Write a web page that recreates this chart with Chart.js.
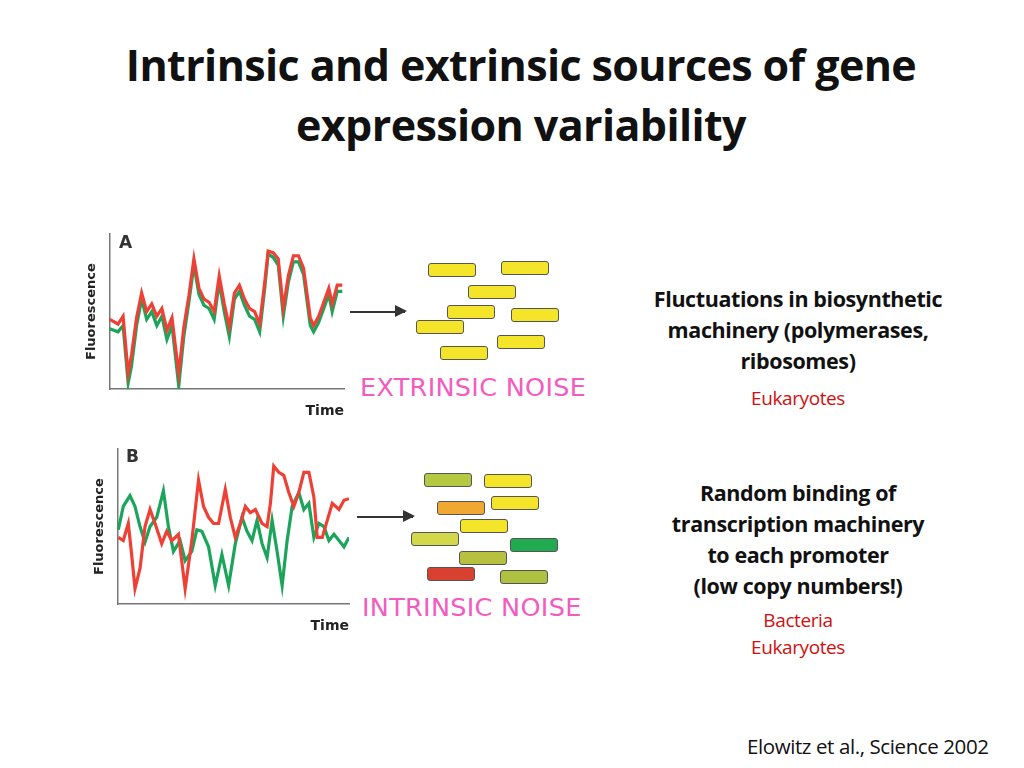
<!DOCTYPE html>
<html><head><meta charset="utf-8">
<script src="https://cdn.jsdelivr.net/npm/chart.js@4/dist/chart.umd.min.js"></script>
<style>
body{margin:0;width:1024px;height:768px;background:#fff;position:relative;overflow:hidden;font-family:"Open Sans",sans-serif}
.t{position:absolute;white-space:nowrap}
.title{left:0;width:1042px;text-align:center;font-weight:bold;font-size:43px;color:#111;letter-spacing:-0.6px}
.r{left:648px;width:300px;text-align:center;font-size:21.5px;font-weight:bold;color:#111;letter-spacing:-0.4px}
.red{color:#d01010;font-weight:normal;font-size:19px}
.bar{position:absolute;width:46px;height:12px;border:1px solid #555;border-radius:3px}
.noise{font-family:"DejaVu Sans",sans-serif;font-size:25.5px;color:#f25cc0;letter-spacing:0.3px}
.arrow{position:absolute;height:1.5px;background:#333}
.arrow:after{content:"";position:absolute;right:-2px;top:-6px;border-left:12px solid #333;border-top:6.5px solid transparent;border-bottom:6.5px solid transparent}
.lbl{position:absolute;font-weight:900;font-size:17px;font-family:"DejaVu Sans",sans-serif;color:#333}
</style></head><body>
<div class="t title" style="top:35px">Intrinsic and extrinsic sources of gene</div>
<div class="t title" style="top:95px">expression variability</div>

<div style="position:absolute;left:80px;top:228px;width:268px;height:196px"><canvas id="cA"></canvas></div>
<div style="position:absolute;left:88px;top:443px;width:265px;height:196px"><canvas id="cB"></canvas></div>
<div class="lbl" style="left:119px;top:232px">A</div>
<div class="lbl" style="left:126px;top:446px">B</div>

<div class="arrow" style="left:350px;top:311px;width:55px"></div>
<div class="arrow" style="left:357px;top:516px;width:56px"></div>
<div class="t noise" style="left:360px;top:372px">EXTRINSIC NOISE</div>
<div class="t noise" style="left:362px;top:592px">INTRINSIC NOISE</div>
<div id="bars"></div>

<div class="t r" style="top:284px">Fluctuations in biosynthetic</div>
<div class="t r" style="top:315px">machinery (polymerases,</div>
<div class="t r" style="top:346px">ribosomes)</div>
<div class="t r red" style="top:385px">Eukaryotes</div>
<div class="t r" style="top:478px">Random binding of</div>
<div class="t r" style="top:509px">transcription machinery</div>
<div class="t r" style="top:540px">to each promoter</div>
<div class="t r" style="top:571px">(low copy numbers!)</div>
<div class="t r red" style="top:607px">Bacteria</div>
<div class="t r red" style="top:634px">Eukaryotes</div>
<div class="t" style="left:747px;top:732px;font-size:20.5px;color:#111;letter-spacing:-0.4px">Elowitz et al., Science 2002</div>

<script>
// Panel A (extrinsic): time positions and fluorescence values
const timeA = [85,110,125,140,150,165,180,195,210,225,240,255,270,290,305,320,335,350,365,380,395,410,425,440,455,470,485,500,515,530,545,555,570,585,600,615,630,645,660,680,690,705,720,735,745,760,775];
const greenA = [39,37,41,4,15,41,58,45,50,41,47,32,41,2,34,56,80,61,54,52,45,69,50,34,58,63,54,47,45,37,65,87,85,80,47,69,82,82,74,41,37,43,52,61,50,63,63];
const redA = [45,42,47,10,22,46,62,50,55,47,52,38,46,10,40,60,84,65,58,56,50,73,55,40,62,67,58,52,50,42,69,89,88,84,52,73,86,86,78,46,41,47,56,65,55,67,67];
// Panel B (intrinsic)
const timeBg = [110,125,145,160,175,190,205,225,245,260,275,295,310,330,345,360,380,400,420,440,460,480,495,510,525,540,555,570,585,600,615,630,650,665,680,695,710,725,740,755,770,785,800];
const greenB = [48,63,70,63,50,40,50,56,73,50,34,41,28,34,48,47,37,12,32,12,39,56,47,41,54,39,30,54,34,12,41,63,72,61,65,43,52,50,41,45,41,37,43];
const timeBr = [110,125,140,150,160,175,190,205,220,240,255,270,290,310,330,350,365,380,395,410,430,445,460,475,490,505,520,540,555,565,575,590,605,620,635,650,665,680,695,705,720,735,750,770,785,800];
const redB = [43,41,52,32,10,23,50,61,52,39,47,41,45,10,41,80,63,56,52,52,74,56,43,52,63,59,61,52,50,65,89,85,83,72,63,72,85,85,69,43,43,54,65,61,67,68];

const pts=(xs,ys)=>xs.map((x,i)=>({x:x,y:ys[i]}));
function mk(id,sets,xmin,xmax){
  new Chart(document.getElementById(id),{type:'line',
    data:{datasets:sets.map(s=>({data:pts(s[0],s[1]),borderColor:s[2],borderWidth:3.2,pointRadius:0,tension:0}))},
    options:{responsive:true,maintainAspectRatio:false,animation:false,
      plugins:{legend:{display:false},tooltip:{enabled:false}},
      layout:{padding:{top:6,right:4}},
      scales:{
        x:{type:'linear',min:xmin,max:xmax,grid:{display:false},ticks:{display:false},border:{color:'#777',width:1.5},
          title:{display:true,text:'Time',align:'end',color:'#222',font:{family:'DejaVu Sans',size:14,weight:'bold'},padding:{top:6}}},
        y:{min:0,max:100,grid:{display:false},ticks:{display:false},border:{color:'#777',width:1.5},
          title:{display:true,text:'Fluorescence',color:'#222',font:{family:'DejaVu Sans',size:13,weight:'bold'},padding:{bottom:2}}}
      }}});
}
mk('cA',[[timeA,redA,'#ee4035'],[timeA,greenA,'#1aa55a']],85,780);
mk('cB',[[timeBr,redB,'#ee4035'],[timeBg,greenB,'#1aa55a']],108,800);

const bars=[[428,263,'#f5e52a'],[501,261,'#f5e52a'],[468,285,'#f5e52a'],[447,305,'#f5e52a'],[511,308,'#f5e52a'],[416,320,'#f5e52a'],[497,335,'#f5e52a'],[440,346,'#f5e52a'],
[424,473,'#b5c842'],[484,474,'#f5e52a'],[437,501,'#f0a830'],[491,496,'#f5e52a'],[460,519,'#f5e52a'],[411,532,'#d2d84a'],[510,538,'#22aa50'],[459,551,'#b8c040'],[427,567,'#d84030'],[500,570,'#b0c040']];
const bd=document.getElementById('bars');
bars.forEach(b=>{const d=document.createElement('div');d.className='bar';d.style.left=b[0]+'px';d.style.top=b[1]+'px';d.style.background=b[2];bd.appendChild(d);});
</script>
</body></html>
